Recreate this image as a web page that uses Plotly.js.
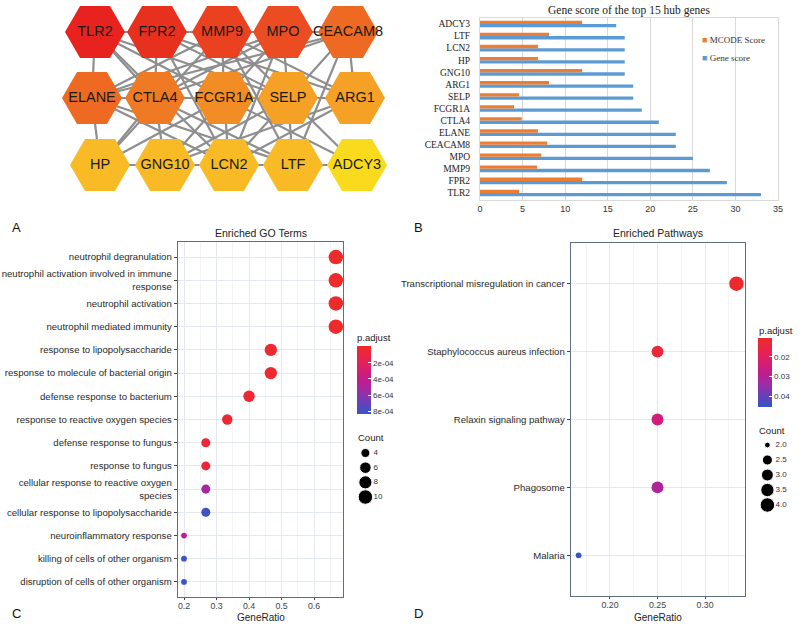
<!DOCTYPE html>
<html><head><meta charset="utf-8">
<script src="https://cdn.plot.ly/plotly-3.0.1.min.js"></script>
<style>html,body{margin:0;padding:0;background:#fff}#plot{width:800px;height:626px}</style>
</head><body><div id="plot"></div>
<script>
// ---------- Panel A: PPI network (top 15 hub genes) ----------
const nodeNames = ["TLR2","FPR2","MMP9","MPO","CEACAM8","ELANE","CTLA4","FCGR1A","SELP","ARG1","HP","GNG10","LCN2","LTF","ADCY3"];
const nodeX = [95,157,222,283,348, 92,155,224,288,355, 100,165,229,293,357];
const nodeY = [32,32,32,32,32, 98,98,98,98,98, 165,165,165,165,165];
const nodeColors = ["#e8231f","#e8301f","#ea4221","#eb4c22","#ee6a23","#ee6a23","#f07a24","#f28c24","#f5a125","#f5a125","#f8bb25","#f8bb25","#f8bb25","#f8bb25","#f9da1c"];
const edges = [
 ["TLR2","FPR2"],["TLR2","ELANE"],["TLR2","MMP9"],["TLR2","MPO"],["TLR2","CTLA4"],["TLR2","FCGR1A"],["TLR2","SELP"],["TLR2","LCN2"],
 ["FPR2","MMP9"],["FPR2","CTLA4"],["FPR2","SELP"],["FPR2","ARG1"],["FPR2","LCN2"],["FPR2","MPO"],
 ["MMP9","MPO"],["MMP9","ELANE"],["MMP9","FCGR1A"],["MMP9","HP"],["MMP9","LTF"],["MMP9","ADCY3"],["MMP9","ARG1"],
 ["MPO","CEACAM8"],["MPO","ELANE"],["MPO","CTLA4"],["MPO","SELP"],["MPO","GNG10"],["MPO","LCN2"],
 ["CEACAM8","ELANE"],["CEACAM8","ARG1"],["CEACAM8","LCN2"],["CEACAM8","LTF"],["CEACAM8","CTLA4"],
 ["ELANE","CTLA4"],["ELANE","HP"],["ELANE","LCN2"],["ELANE","LTF"],["ELANE","SELP"],
 ["CTLA4","FCGR1A"],["CTLA4","GNG10"],["CTLA4","HP"],["CTLA4","LTF"],["CTLA4","ARG1"],
 ["FCGR1A","SELP"],["FCGR1A","LCN2"],["FCGR1A","HP"],["FCGR1A","ADCY3"],
 ["SELP","ARG1"],["SELP","LTF"],["SELP","GNG10"],["ARG1","LCN2"],["ARG1","GNG10"],
 ["HP","GNG10"],["GNG10","LCN2"],["LCN2","LTF"],["LTF","ADCY3"]
];

// ---------- Panel B: gene scores ----------
const hubGenes = ["TLR2","FPR2","MMP9","MPO","CEACAM8","ELANE","CTLA4","FCGR1A","SELP","ARG1","GNG10","HP","LCN2","LTF","ADCY3"];
const geneScore = [33,29,27,25,23,23,21,19,18,18,17,17,17,17,16];
const mcodeScore = [4.6,12,6.7,7.2,7.9,6.8,4.9,4.0,4.6,8.1,12,6.8,6.8,8.1,12];

// ---------- Panel C: Enriched GO terms ----------
const goTerms = ["neutrophil degranulation","neutrophil activation involved in immune<br>response","neutrophil activation","neutrophil mediated immunity","response to lipopolysaccharide","response to molecule of bacterial origin","defense response to bacterium","response to reactive oxygen species","defense response to fungus","response to fungus","cellular response to reactive oxygen<br>species","cellular response to lipopolysaccharide","neuroinflammatory response","killing of cells of other organism","disruption of cells of other organism"];
const goRatio = [0.667,0.667,0.667,0.667,0.467,0.467,0.4,0.333,0.267,0.267,0.267,0.267,0.2,0.2,0.2];
const goCount = [10,10,10,10,7,7,6,5,4,4,4,4,3,3,3];
const goPadj = [0.000002,0.000002,0.000002,0.000002,0.00002,0.00002,0.00004,0.00005,0.00006,0.00006,0.00052,0.00081,0.00043,0.00082,0.00082];
const goCountLegend = [4,6,8,10];
const goPadjTicks = [0.0002,0.0004,0.0006,0.0008];
const goPadjTickText = ["2e-04","4e-04","6e-04","8e-04"];

// ---------- Panel D: Enriched pathways ----------
const pathTerms = ["Transcriptional misregulation in cancer","Staphylococcus aureus infection","Relaxin signaling pathway","Phagosome","Malaria"];
const pathRatio = [0.333,0.25,0.25,0.25,0.167];
const pathCount = [4,3,3,3,2];
const pathPadj = [0.0110,0.0128,0.0245,0.0308,0.0452];
const pathCountLegend = [2.0,2.5,3.0,3.5,4.0];
const pathPadjTicks = [0.02,0.03,0.04];
const pathPadjTickText = ["0.02","0.03","0.04"];

// ---------- helpers ----------
const W=800,H=626;
const DX=(a,b)=>[a/W,b/W];
const DY=(t,b)=>[1-b/H,1-t/H];
const PX=x=>x/W, PY=y=>1-y/H;
const SANS="Liberation Sans, Arial, sans-serif";
const SERIF="Liberation Serif, Times New Roman, serif";
function dotSize(c,lo,hi){ return 4+1.75*(1+5*Math.sqrt((c-lo)/(hi-lo))); }
const cscale=[[0,"#3556c8"],[0.1,"#5248bc"],[0.3,"#9330aa"],[0.5,"#c21c8f"],[0.75,"#e4205a"],[1,"#ef2a2a"]];

const traces=[];
// network edges
const ex=[],ey=[];
const idx={}; nodeNames.forEach((n,i)=>idx[n]=i);
edges.forEach(e=>{const a=idx[e[0]],b=idx[e[1]];ex.push(nodeX[a],nodeX[b],null);ey.push(nodeY[a],nodeY[b],null);});
traces.push({type:"scatter",mode:"lines",x:ex,y:ey,xaxis:"x",yaxis:"y",line:{color:"#8e8e8e",width:2.2},hoverinfo:"skip",showlegend:false});
traces.push({type:"scatter",mode:"markers+text",x:nodeX,y:nodeY,xaxis:"x",yaxis:"y",text:nodeNames,textposition:"middle center",
 textfont:{family:SANS,size:14.5,color:"#1a1a1a"},
 marker:{symbol:"hexagon2",size:60,color:nodeColors,opacity:1,line:{width:0}},showlegend:false,cliponaxis:false});

// bar chart
traces.push({type:"bar",orientation:"h",y:hubGenes,x:geneScore,xaxis:"x2",yaxis:"y2",name:"Gene score",marker:{color:"#5b9bd5"},showlegend:false});
traces.push({type:"bar",orientation:"h",y:hubGenes,x:mcodeScore,xaxis:"x2",yaxis:"y2",name:"MCODE Score",marker:{color:"#ed7d31"},showlegend:false});

// GO dot plot
traces.push({type:"scatter",mode:"markers",x:goRatio,y:goTerms,xaxis:"x3",yaxis:"y3",showlegend:false,cliponaxis:false,
 marker:{opacity:1,size:goCount.map(c=>dotSize(c,3,10)),color:goPadj.map(v=>-v),cmin:-0.00084,cmax:0,colorscale:cscale,showscale:true,line:{width:0},
  colorbar:{x:PX(357),xanchor:"left",y:PY(380.5),yanchor:"middle",len:68,lenmode:"pixels",thickness:14,thicknessmode:"pixels",xpad:0,ypad:0,
   outlinewidth:0,tickvals:goPadjTicks.map(v=>-v),ticktext:goPadjTickText,ticks:"inside",ticklen:3,tickcolor:"#ffffff",tickfont:{family:SANS,size:8,color:"#333"}}}});
// GO count legend
traces.push({type:"scatter",mode:"markers",x:goCountLegend.map(()=>0.2),y:goCountLegend,xaxis:"x5",yaxis:"y5",showlegend:false,
 marker:{opacity:1,size:goCountLegend.map(c=>dotSize(c,3,10)),color:"#000"}});
traces.push({type:"scatter",mode:"text",x:goCountLegend.map(()=>0.42),y:goCountLegend,text:goCountLegend.map(String),textposition:"middle right",xaxis:"x5",yaxis:"y5",showlegend:false,
 textfont:{family:SANS,size:8,color:"#333"}});

// Pathway dot plot
traces.push({type:"scatter",mode:"markers",x:pathRatio,y:pathTerms,xaxis:"x4",yaxis:"y4",showlegend:false,cliponaxis:false,
 marker:{opacity:1,size:pathCount.map(c=>dotSize(c,2,4)),color:pathPadj.map(v=>-v),cmin:-0.0455,cmax:-0.0105,colorscale:cscale,showscale:true,line:{width:0},
  colorbar:{x:PX(758),xanchor:"left",y:PY(372.5),yanchor:"middle",len:69,lenmode:"pixels",thickness:14,thicknessmode:"pixels",xpad:0,ypad:0,
   outlinewidth:0,tickvals:pathPadjTicks.map(v=>-v),ticktext:pathPadjTickText,ticks:"inside",ticklen:3,tickcolor:"#ffffff",tickfont:{family:SANS,size:8,color:"#333"}}}});
traces.push({type:"scatter",mode:"markers",x:pathCountLegend.map(()=>0.2),y:pathCountLegend,xaxis:"x6",yaxis:"y6",showlegend:false,
 marker:{opacity:1,size:pathCountLegend.map(c=>dotSize(c,2,4)),color:"#000"}});
traces.push({type:"scatter",mode:"text",x:pathCountLegend.map(()=>0.42),y:pathCountLegend,text:pathCountLegend.map(v=>v.toFixed(1)),textposition:"middle right",xaxis:"x6",yaxis:"y6",showlegend:false,
 textfont:{family:SANS,size:8,color:"#333"}});

const hidden={visible:false,showgrid:false,zeroline:false,fixedrange:true};
const dotX=(dom,range,dtick,tick0,minorD,fmt,anchor)=>({domain:dom,anchor:anchor,range:range,dtick:dtick,tick0:tick0,tickformat:fmt,showgrid:true,gridcolor:"#e4e9f1",gridwidth:1,
  minor:{dtick:minorD,showgrid:true,gridcolor:"#f2f4f8",gridwidth:1},zeroline:false,showline:true,mirror:true,linecolor:"#5e6e7e",linewidth:1.3,
  ticks:"outside",ticklen:2,tickcolor:"#444",ticklabelstandoff:-2,tickfont:{family:SANS,size:8.8,color:"#444"}});
const dotY=(dom,cats,range,anchor)=>({domain:dom,anchor:anchor,type:"category",categoryorder:"array",categoryarray:cats.slice().reverse(),range:range,
  showgrid:true,gridcolor:"#e4e9f1",zeroline:false,showline:true,mirror:true,linecolor:"#5e6e7e",linewidth:1.3,
  ticks:"outside",ticklen:3,tickcolor:"#444",tickfont:{family:SANS,size:9.6,color:"#2a2a2a"}});

function ann(text,x,y,font,xanchor){return {text:text,x:PX(x),y:PY(y),xref:"paper",yref:"paper",xanchor:xanchor||"center",yanchor:"middle",showarrow:false,font:font};}
const f=(fam,size,color)=>({family:fam,size:size,color:color});

const layout={
 width:W,height:H,margin:{l:0,r:0,t:0,b:0},paper_bgcolor:"#fff",plot_bgcolor:"rgba(0,0,0,0)",showlegend:false,
 barmode:"group",bargap:0.45,bargroupgap:0,
 xaxis:Object.assign({domain:DX(0,400),range:[0,400],anchor:"y"},hidden),
 yaxis:Object.assign({domain:DY(0,215),range:[215,0],anchor:"x"},hidden),
 xaxis2:{domain:DX(480,778),anchor:"y2",range:[0,35],dtick:5,showgrid:true,gridcolor:"#d9d9d9",zeroline:false,showline:true,mirror:true,linecolor:"#d9d9d9",
   ticks:"",tickfont:{family:SANS,size:9,color:"#333"},fixedrange:true},
 yaxis2:{domain:DY(18,200),anchor:"x2",type:"category",categoryorder:"array",categoryarray:hubGenes,range:[-0.58,14.5],showgrid:false,zeroline:false,
   showline:true,mirror:true,linecolor:"#d9d9d9",ticks:"",ticklabelstandoff:7,tickfont:{family:SERIF,size:9.5,color:"#222"},fixedrange:true},
 xaxis3:dotX(DX(178,343),[0.1815,0.689],0.1,0.2,0.05,null,"y3"),
 yaxis3:dotY(DY(242,597),goTerms,[-0.65,14.65],"x3"),
 xaxis4:dotX(DX(571,745),[0.159,0.342],0.05,0.2,0.025,".2f","y4"),
 yaxis4:dotY(DY(243,596),pathTerms,[-0.6,4.6],"x4"),
 xaxis5:Object.assign({domain:DX(358,395),range:[0,1],anchor:"y5"},hidden),
 yaxis5:Object.assign({domain:DY(445,505),range:[11.09,2.91],anchor:"x5"},hidden),
 xaxis6:Object.assign({domain:DX(760,797),range:[0,1],anchor:"y6"},hidden),
 yaxis6:Object.assign({domain:DY(437,513),range:[4.267,1.733],anchor:"x6"},hidden),
 annotations:[
  ann("Gene score of the top 15 hub genes",629,11,f(SERIF,11.5,"#222")),
  ann("<span style='color:#ed7d31'>■</span> MCODE Score",700,40,f(SERIF,9,"#333"),"left"),
  ann("<span style='color:#5b9bd5'>■</span> Gene score",700,58,f(SERIF,9,"#333"),"left"),
  ann("Enriched GO Terms",260.5,233,f(SANS,10.5,"#222")),
  ann("Enriched Pathways",658,233,f(SANS,10.5,"#222")),
  ann("GeneRatio",260.5,617,f(SANS,10,"#222")),
  ann("GeneRatio",658,617,f(SANS,10,"#222")),
  ann("p.adjust",355,337,f(SANS,9.5,"#222"),"left"),
  ann("Count",356,437,f(SANS,9.5,"#222"),"left"),
  ann("p.adjust",757,330,f(SANS,9.5,"#222"),"left"),
  ann("Count",757,430,f(SANS,9.5,"#222"),"left"),
  ann("A",10,227,f(SANS,13,"#111"),"left"),
  ann("B",412,227,f(SANS,13,"#111"),"left"),
  ann("C",10,613,f(SANS,13,"#111"),"left"),
  ann("D",412,613,f(SANS,13,"#111"),"left")
 ]
};
Plotly.newPlot("plot",traces,layout,{displayModeBar:false,staticPlot:true});
</script></body></html>
